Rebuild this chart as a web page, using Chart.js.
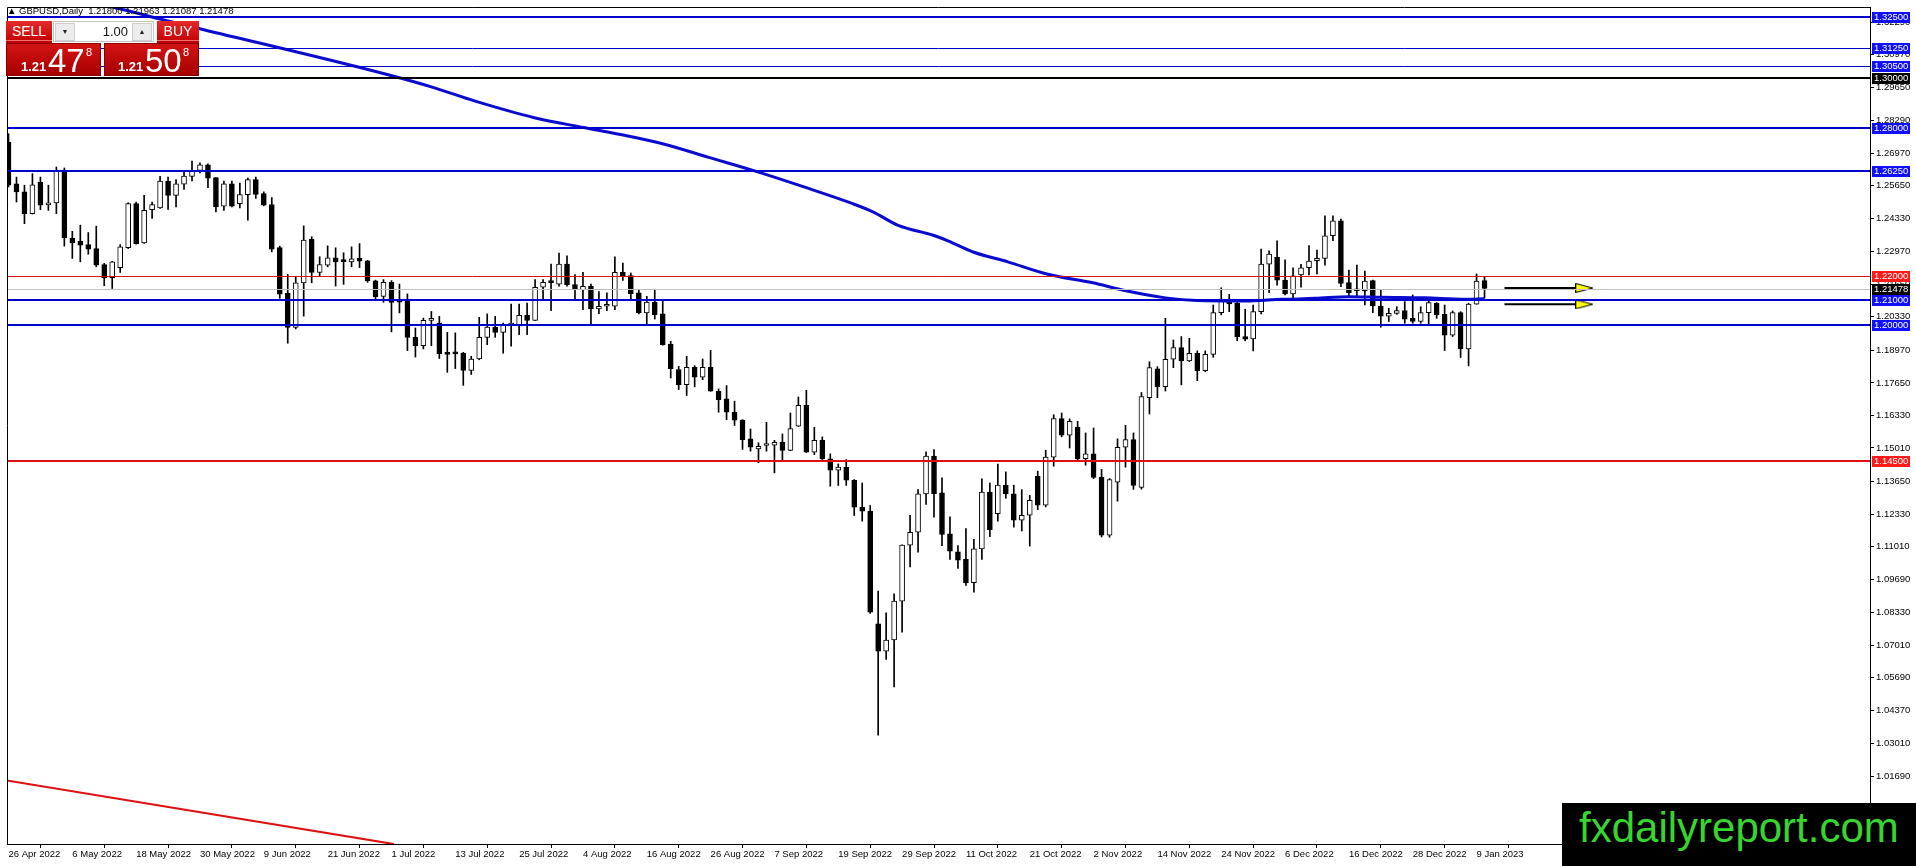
<!DOCTYPE html>
<html>
<head>
<meta charset="utf-8">
<title>GBPUSD Daily</title>
<script src="https://cdn.jsdelivr.net/npm/chart.js@4.4.0/dist/chart.umd.min.js"></script>
<style>
html, body { margin: 0; padding: 0; background: #fff; }
#wrap { position: relative; width: 1916px; height: 866px; overflow: hidden; font-family: "Liberation Sans", Arial, sans-serif; }
#c { position: absolute; left: 0; top: 0; }
#title { position: absolute; left: 7px; top: 6px; font-size: 9.5px; line-height: 10px; color: #000; white-space: pre; }
.btn { position: absolute; top: 21px; height: 22px; color: #fff; font-size: 14px; line-height: 21px; text-align: center;
  background: linear-gradient(#e32a2a, #c20000); box-shadow: inset 0 -2px 0 #c00000, inset 0 -3px 0 #f07070; }
#sell { left: 6px; width: 46px; }
#buy { left: 157px; width: 42px; }
#vol { position: absolute; left: 53px; top: 21px; width: 99px; height: 19px; background: #fff; border: 1px solid #c4c4c4; }
.arr { position: absolute; top: 1px; width: 18px; height: 16px; background: #ececec; border: 1px solid #cfcfcf; font-size: 7px; line-height: 16px; text-align: center; color: #222; }
#vdn { left: 1px; }
#vup { right: 1px; }
#vval { position: absolute; right: 25px; top: 3px; font-size: 13px; line-height: 13px; color: #111; }
.pbox { position: absolute; top: 43px; width: 95px; height: 33px; color: #fff; background: linear-gradient(#d41313, #a60000); border: 1px solid #8a0000; box-sizing: border-box; }
#sellp { left: 6px; }
#buyp { left: 104px; }
.sm { position: absolute; top: 16px; font-size: 13px; line-height: 13px; font-weight: bold; }
.big { position: absolute; top: 0px; font-size: 33px; line-height: 33px; }
.sup { position: absolute; top: 3px; font-size: 11px; line-height: 11px; }
#mark { position: absolute; left: 1562px; top: 803px; width: 354px; height: 63px; background: #000; }
#mark span { position: absolute; left: 17px; top: 4px; font-size: 42px; line-height: 42px; color: #37d62f; white-space: nowrap; }
</style>
</head>
<body>
<div id="wrap">
  <canvas id="c" width="1916" height="866"></canvas>
  <div id="title">▲ GBPUSD,Daily  1.21800 1.21963 1.21087 1.21478</div>
  <div class="btn" id="sell">SELL</div>
  <div id="vol"><div class="arr" id="vdn">▼</div><span id="vval">1.00</span><div class="arr" id="vup">▲</div></div>
  <div class="btn" id="buy">BUY</div>
  <div class="pbox" id="sellp"><span class="sm" style="left:14px">1.21</span><span class="big" style="left:41px">47</span><span class="sup" style="left:79px">8</span></div>
  <div class="pbox" id="buyp"><span class="sm" style="left:13px">1.21</span><span class="big" style="left:40px">50</span><span class="sup" style="left:78px">8</span></div>
  <div id="mark"><span>fxdailyreport.com</span></div>
</div>
<script>
// daily bars, 26 Apr 2022 .. 10 Jan 2023 (one entry per trading day)
const openP = [
  1.2742,1.2573,1.2540,1.2452,1.2580,1.2487,1.2495,1.2627,1.2353,1.2340,
  1.2326,1.2310,1.2245,1.2192,1.2233,1.2314,1.2492,1.2333,1.2468,1.2475,
  1.2584,1.2526,1.2571,1.2603,1.2627,1.2650,1.2598,1.2482,1.2573,1.2492,
  1.2529,1.2590,1.2533,1.2488,1.2314,1.2128,1.1990,1.2171,1.2347,1.2213,
  1.2243,1.2272,1.2258,1.2256,1.2270,1.2260,1.2179,1.2116,1.2173,1.2099,
  1.2099,1.1950,1.1916,1.2019,1.2008,1.1886,1.1884,1.1886,1.1816,1.1862,
  1.1950,1.1991,1.1970,1.2000,1.2001,1.2039,1.2019,1.2153,1.2173,1.2166,
  1.2247,1.2164,1.2143,1.2157,1.2065,1.2076,1.2076,1.2214,1.2200,1.2130,
  1.2049,1.2093,1.2045,1.1923,1.1819,1.1758,1.1828,1.1788,1.1828,1.1731,
  1.1700,1.1646,1.1614,1.1538,1.1497,1.1511,1.1512,1.1524,1.1491,1.1589,
  1.1674,1.1484,1.1532,1.1457,1.1411,1.1423,1.1370,1.1261,1.1245,1.0788,
  1.0677,1.0722,1.0880,1.1107,1.1159,1.1315,1.1468,1.1319,1.1153,1.1080,
  1.1049,1.0955,1.1092,1.1322,1.1234,1.1350,1.1315,1.1208,1.1228,1.1386,
  1.1269,1.1464,1.1620,1.1553,1.1586,1.1458,1.1477,1.1382,1.1147,1.1362,
  1.1504,1.1535,1.1341,1.1705,1.1822,1.1750,1.1861,1.1908,1.1854,1.1885,
  1.1815,1.1881,1.2050,1.2105,1.2088,1.1953,1.1943,1.2054,1.2247,1.2274,
  1.2182,1.2126,1.2203,1.2232,1.2261,1.2270,1.2362,1.2423,1.2172,1.2146,
  1.2139,1.2180,1.2077,1.2036,1.2047,1.2058,1.2027,1.2014,1.2050,1.2088,
  1.2043,1.1959,1.2050,1.1903,1.2084,1.2180
];
const highP = [
  1.2776,1.2600,1.2567,1.2614,1.2600,1.2567,1.2641,1.2637,1.2380,1.2405,
  1.2375,1.2401,1.2250,1.2258,1.2326,1.2496,1.2499,1.2526,1.2499,1.2603,
  1.2600,1.2590,1.2627,1.2665,1.2658,1.2654,1.2598,1.2584,1.2584,1.2576,
  1.2596,1.2600,1.2540,1.2517,1.2320,1.2205,1.2196,1.2402,1.2358,1.2277,
  1.2321,1.2313,1.2293,1.2317,1.2330,1.2262,1.2182,1.2184,1.2180,1.2166,
  1.2126,1.1988,1.2028,1.2055,1.2035,1.1970,1.1968,1.1889,1.1873,1.2031,
  1.2045,1.2035,1.2008,1.2085,1.2085,1.2089,1.2184,1.2184,1.2247,1.2292,
  1.2281,1.2204,1.2214,1.2166,1.2136,1.2130,1.2276,1.2251,1.2211,1.2141,
  1.2116,1.2141,1.2096,1.1934,1.1832,1.1873,1.1835,1.1862,1.1897,1.1741,
  1.1754,1.1691,1.1616,1.1578,1.1522,1.1605,1.1532,1.1558,1.1643,1.1708,
  1.1735,1.1585,1.1546,1.1477,1.1436,1.1454,1.1373,1.1359,1.1268,1.0920,
  1.0832,1.0909,1.1108,1.1228,1.1332,1.1485,1.1495,1.1380,1.1222,1.1105,
  1.1174,1.1130,1.1376,1.1359,1.1436,1.1404,1.1350,1.1332,1.1309,1.1407,
  1.1492,1.1636,1.1643,1.1619,1.1609,1.1562,1.1582,1.1414,1.1377,1.1538,
  1.1593,1.1562,1.1726,1.1851,1.1831,1.2027,1.1939,1.1953,1.1946,1.1895,
  1.1895,1.2081,1.2151,1.2124,1.2101,1.2064,1.2081,1.2308,1.2301,1.2341,
  1.2264,1.2232,1.2246,1.2322,1.2304,1.2443,1.2443,1.2430,1.2223,1.2243,
  1.2219,1.2182,1.2142,1.2068,1.2074,1.2095,1.2122,1.2074,1.2099,1.2091,
  1.2081,1.2057,1.2054,1.2088,1.2207,1.2196
];
const lowP = [
  1.2560,1.2499,1.2411,1.2450,1.2468,1.2465,1.2452,1.2320,1.2270,1.2256,
  1.2287,1.2236,1.2159,1.2148,1.2213,1.2310,1.2328,1.2331,1.2432,1.2473,
  1.2469,1.2479,1.2550,1.2584,1.2617,1.2557,1.2459,1.2465,1.2479,1.2475,
  1.2425,1.2513,1.2483,1.2297,1.2108,1.1926,1.1984,1.2036,1.2171,1.2196,
  1.2236,1.2158,1.2165,1.2236,1.2233,1.2173,1.2101,1.2092,1.1972,1.2049,
  1.1896,1.1870,1.1903,1.1916,1.1864,1.1808,1.1823,1.1755,1.1799,1.1859,
  1.1920,1.1950,1.1886,1.1914,1.1961,1.1961,1.2019,1.2105,1.2058,1.2157,
  1.2157,1.2105,1.2062,1.2001,1.2046,1.2058,1.2062,1.2181,1.2103,1.2045,
  1.2001,1.2024,1.1918,1.1785,1.1738,1.1714,1.1749,1.1778,1.1731,1.1646,
  1.1616,1.1592,1.1495,1.1488,1.1441,1.1488,1.1400,1.1451,1.1490,1.1588,
  1.1483,1.1474,1.1454,1.1346,1.1349,1.1349,1.1227,1.1204,1.0830,1.0336,
  1.0643,1.0532,1.0754,1.1018,1.1078,1.1272,1.1220,1.1105,1.1049,1.1012,
  1.0943,1.0916,1.1049,1.1141,1.1204,1.1297,1.1180,1.1164,1.1103,1.1251,
  1.1262,1.1427,1.1546,1.1501,1.1451,1.1431,1.1377,1.1140,1.1139,1.1285,
  1.1423,1.1333,1.1334,1.1639,1.1705,1.1732,1.1827,1.1757,1.1851,1.1774,
  1.1811,1.1869,1.2041,1.2054,1.1936,1.1936,1.1895,1.2045,1.2131,1.2162,
  1.2122,1.2108,1.2153,1.2203,1.2207,1.2243,1.2342,1.2155,1.2118,1.2118,
  1.2081,1.2050,1.1991,1.2014,1.2043,1.2007,1.2007,1.2007,1.2000,1.2027,
  1.1896,1.1953,1.1868,1.1834,1.2084,1.2109
];
const closeP = [
  1.2567,1.2540,1.2452,1.2569,1.2486,1.2496,1.2627,1.2353,1.2333,1.2324,
  1.2308,1.2243,1.2192,1.2256,1.2317,1.2492,1.2330,1.2465,1.2488,1.2584,
  1.2526,1.2573,1.2604,1.2623,1.2650,1.2596,1.2479,1.2573,1.2482,1.2529,
  1.2590,1.2530,1.2486,1.2308,1.2125,1.1990,1.2171,1.2344,1.2213,1.2245,
  1.2272,1.2256,1.2257,1.2268,1.2259,1.2179,1.2115,1.2173,1.2092,1.2093,
  1.1950,1.1916,1.2019,1.2027,1.1884,1.1881,1.1883,1.1816,1.1862,1.1950,
  1.1991,1.1970,1.1999,1.2001,1.2039,1.2019,1.2153,1.2173,1.2172,1.2247,
  1.2164,1.2143,1.2157,1.2065,1.2076,1.2077,1.2214,1.2197,1.2127,1.2049,
  1.2093,1.2042,1.1920,1.1823,1.1758,1.1828,1.1788,1.1828,1.1731,1.1697,
  1.1646,1.1614,1.1535,1.1504,1.1508,1.1512,1.1524,1.1491,1.1580,1.1674,
  1.1484,1.1532,1.1457,1.1411,1.1424,1.1370,1.1261,1.1245,1.0835,1.0677,
  1.0722,1.0880,1.1107,1.1159,1.1315,1.1468,1.1316,1.1150,1.1082,1.1046,
  1.0954,1.1092,1.1322,1.1170,1.1350,1.1315,1.1208,1.1228,1.1289,1.1269,
  1.1464,1.1620,1.1553,1.1609,1.1457,1.1477,1.1382,1.1147,1.1373,1.1504,
  1.1535,1.1349,1.1710,1.1827,1.1750,1.1861,1.1908,1.1854,1.1885,1.1815,
  1.1881,1.2050,1.2105,1.2085,1.1953,1.1942,1.2054,1.2247,1.2288,1.2182,
  1.2126,1.2199,1.2232,1.2259,1.2270,1.2362,1.2423,1.2169,1.2131,1.2139,
  1.2178,1.2077,1.2036,1.2047,1.2058,1.2024,1.2014,1.2050,1.2091,1.2041,
  1.1959,1.2050,1.1903,1.2085,1.2178,1.2148
];

// one date label every 8 bars, starting at bar 0
const dateLabels = ['26 Apr 2022','6 May 2022','18 May 2022','30 May 2022','9 Jun 2022','21 Jun 2022',
  '1 Jul 2022','13 Jul 2022','25 Jul 2022','4 Aug 2022','16 Aug 2022','26 Aug 2022','7 Sep 2022',
  '19 Sep 2022','29 Sep 2022','11 Oct 2022','21 Oct 2022','2 Nov 2022','14 Nov 2022','24 Nov 2022',
  '6 Dec 2022','16 Dec 2022','28 Dec 2022','9 Jan 2023'];

const priceTicks = [1.32290,1.30970,1.29650,1.28290,1.26970,1.25650,1.24330,1.22970,1.21650,1.20330,
  1.18970,1.17650,1.16330,1.15010,1.13650,1.12330,1.11010,1.09690,1.08330,1.07010,1.05690,1.04370,
  1.03010,1.01690];

// moving average at these bar positions
const maBars = [10, 11.75, 20.5, 24.6, 47.1, 53.4, 58.4, 65.9, 72.1, 76.5, 82.1, 87.75, 93.4, 99.6,
  105.9, 108.4, 111.5, 115.9, 117.75, 120.9, 125.25, 130.25, 135.9, 139.6, 145, 149, 155, 159.6,
  163.8, 168, 172, 177.5, 182.5, 185];
const maValues = [1.3306, 1.3298, 1.3229, 1.3197, 1.3019, 1.2962, 1.2909, 1.2841, 1.2801, 1.2774,
  1.2734, 1.2680, 1.2626, 1.2561, 1.2491, 1.2458, 1.2404, 1.2364, 1.2341, 1.2296, 1.2256, 1.2206,
  1.2171, 1.2142, 1.2110, 1.2099, 1.2097, 1.2104, 1.2108, 1.2115, 1.2112, 1.2110, 1.2104, 1.2106];

// horizontal levels and the current bid
const levelPrices = [1.32500, 1.31250, 1.30500, 1.30000, 1.28000, 1.26250, 1.22000, 1.21478, 1.21000, 1.20000, 1.14500];

// red trend line and the two arrows on the right
const trendBars = [-0.4, 48.3];
const trendValues = [1.0153, 0.9894];
const arrowBars = [187.5, 197.5];
const arrowUpper = 1.2150;
const arrowLower = 1.2084;

// styles for the levels (same order as levelPrices)
const BLUE = '#0000cd', RED = '#dd1111';
const levelStyle = [
  {c: BLUE, w: 2, box: '#1010ff'}, {c: BLUE, w: 1, box: '#1010ff'}, {c: BLUE, w: 1, box: '#1010ff'},
  {c: '#000', w: 2, box: '#000'}, {c: BLUE, w: 2, box: '#1010ff'}, {c: BLUE, w: 2, box: '#1010ff'},
  {c: RED, w: 1, box: '#ff1a1a'}, {c: '#c0c0c0', w: 1, box: '#000'}, {c: BLUE, w: 2, box: '#1010ff'},
  {c: BLUE, w: 2, box: '#1010ff'}, {c: RED, w: 2, box: '#ff1a1a'}
];

const bars = openP.map((o, i) => i);
const bull = bars.map(i => closeP[i] >= openP[i]);

const head = document.createElement('canvas');
head.width = 18; head.height = 10;
const hc = head.getContext('2d');
hc.beginPath(); hc.moveTo(0.5, 0.5); hc.lineTo(17.5, 5); hc.lineTo(0.5, 9.5); hc.closePath();
hc.fillStyle = '#ffff00'; hc.fill(); hc.strokeStyle = '#000'; hc.lineWidth = 1; hc.stroke();

const levels = {
  id: 'levels',
  afterDatasetsDraw(chart) {
    const {ctx, chartArea: a, scales: {y}} = chart;
    ctx.save();
    ctx.beginPath(); ctx.rect(a.left, a.top, a.right - a.left, a.bottom - a.top); ctx.clip();
    levelPrices.forEach((p, k) => {
      const s = levelStyle[k];
      const py = Math.round(y.getPixelForValue(p)) + (s.w % 2 ? 0.5 : 0);
      ctx.strokeStyle = s.c; ctx.lineWidth = s.w;
      ctx.beginPath(); ctx.moveTo(a.left, py); ctx.lineTo(a.right, py); ctx.stroke();
    });
    ctx.restore();
  },
  afterDraw(chart) {
    const {ctx, chartArea: a, scales: {y}} = chart;
    ctx.save();
    ctx.strokeStyle = '#000'; ctx.lineWidth = 1;
    ctx.beginPath();
    ctx.moveTo(a.left + 0.5, a.bottom); ctx.lineTo(a.left + 0.5, a.top + 0.5); ctx.lineTo(a.right, a.top + 0.5);
    ctx.stroke();
    ctx.font = '9.5px "Liberation Sans", Arial, sans-serif';
    ctx.textBaseline = 'middle';
    levelPrices.forEach((p, k) => {
      const py = Math.round(y.getPixelForValue(p));
      ctx.fillStyle = levelStyle[k].box;
      ctx.fillRect(a.right + 2, py - 5, 38, 11);
      ctx.fillStyle = '#fff';
      ctx.fillText(p.toFixed(5), a.right + 4, py + 0.5);
    });
    ctx.restore();
  }
};

const tickFont = {family: '"Liberation Sans", Arial, sans-serif', size: 9.5};
const noPad = s => { s.paddingTop = 0; s.paddingBottom = 0; s.paddingLeft = 0; s.paddingRight = 0; };

new Chart(document.getElementById('c'), {
  type: 'bar',
  data: {
    datasets: [
      {
        type: 'line', order: 0,
        data: maBars.map((b, k) => ({x: b, y: maValues[k]})),
        borderColor: '#0a0ad0', borderWidth: 3, pointRadius: 0, cubicInterpolationMode: 'monotone'
      },
      {
        type: 'line', order: 1,
        data: arrowBars.map(b => ({x: b, y: arrowUpper})),
        borderColor: '#000', borderWidth: 2, pointStyle: head, pointRadius: [0, 5]
      },
      {
        type: 'line', order: 1,
        data: arrowBars.map(b => ({x: b, y: arrowLower})),
        borderColor: '#000', borderWidth: 2, pointStyle: head, pointRadius: [0, 5]
      },
      {
        order: 2, grouped: false,
        data: bars.map(i => ({x: i, y: [openP[i], closeP[i]]})),
        backgroundColor: bars.map(i => bull[i] ? '#fff' : '#000'),
        borderColor: '#000', borderWidth: 1, borderSkipped: false,
        barThickness: 5, minBarLength: 2
      },
      {
        order: 3, grouped: false,
        data: bars.map(i => ({x: i, y: [lowP[i], highP[i]]})),
        backgroundColor: '#000', borderWidth: 0, barThickness: 1
      },
      {
        type: 'line', order: 4,
        data: trendBars.map((b, k) => ({x: b, y: trendValues[k]})),
        borderColor: '#dd1111', borderWidth: 2, pointRadius: 0
      }
    ]
  },
  options: {
    responsive: false, animation: false, devicePixelRatio: 1,
    layout: {padding: {left: 2, top: 2, right: 0, bottom: 0}},
    plugins: {legend: {display: false}, tooltip: {enabled: false}},
    scales: {
      x: {
        type: 'linear', min: -0.1875, max: 233.3125, offset: false,
        grid: {drawOnChartArea: false, drawTicks: true, tickLength: 4, color: '#000'},
        border: {display: true, color: '#000', width: 1},
        ticks: {
          autoSkip: false, maxRotation: 0, align: 'start', padding: 1, color: '#000', font: tickFont,
          callback: v => dateLabels[v / 8]
        },
        afterBuildTicks: s => { s.ticks = dateLabels.map((d, k) => ({value: k * 8})); },
        afterFit: s => { s.height = 22; noPad(s); }
      },
      y: {
        position: 'right', min: 0.98944, max: 1.3290,
        grid: {drawOnChartArea: false, drawTicks: true, tickLength: 4, color: '#000'},
        border: {display: true, color: '#000', width: 1},
        ticks: {padding: 2, color: '#000', font: tickFont, callback: v => v.toFixed(5)},
        afterBuildTicks: s => { s.ticks = priceTicks.map(v => ({value: v})); },
        afterFit: s => { s.width = 46; noPad(s); }
      }
    }
  },
  plugins: [levels]
});
</script>
</body>
</html>
